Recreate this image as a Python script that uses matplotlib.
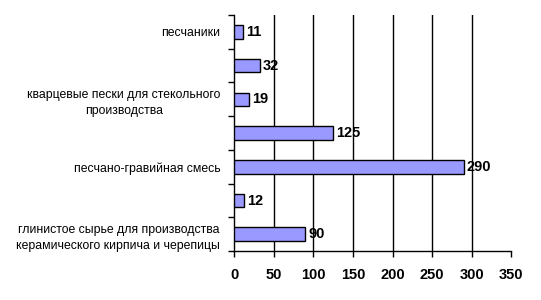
import matplotlib
matplotlib.use("Agg")
import matplotlib.pyplot as plt
import numpy as np

# Категории сверху вниз (скрытые подписи оставлены пустыми)
categories = [
    "песчаники",
    "",
    "кварцевые пески для стекольного\nпроизводства",
    "",
    "песчано-гравийная смесь",
    "",
    "глинистое сырье для производства\nкерамического кирпича и черепицы",
]
values = [11, 32, 19, 125, 290, 12, 90]
xticks = [0, 50, 100, 150, 200, 250, 300, 350]


def main():
    plt.rcParams['font.family'] = ['Liberation Sans', 'DejaVu Sans']

    fig = plt.figure(figsize=(5.41, 3.0), dpi=100)
    ax = fig.add_axes([0.433, 0.163, 0.512, 0.787])

    n = len(values)
    pos = np.arange(n)[::-1]
    ax.barh(pos, values, height=0.4, color='#9999FF', edgecolor='black',
            linewidth=1, zorder=3)

    for p, v in zip(pos, values):
        ax.text(v + 4, p, str(v), va='center', ha='left', fontsize=10.5,
                fontweight='bold', zorder=4)

    ax.set_xlim(0, 350)
    ax.set_ylim(-0.5, n - 0.5)
    ax.set_xticks(xticks)
    ax.set_xticklabels([str(t) for t in xticks], fontsize=10.5, fontweight='bold')
    for t in xticks[1:-1]:
        ax.axvline(t, color='black', linewidth=1, zorder=1)

    # подписи категорий по центрам, деления на границах
    ax.set_yticks(pos)
    ax.set_yticklabels(categories, fontsize=8.8, multialignment='center',
                       linespacing=1.45)
    ax.tick_params(axis='y', length=0, pad=10)
    ax.set_yticks(np.arange(n + 1) - 0.5, minor=True)
    ax.tick_params(axis='y', which='minor', length=4, width=1, direction='out')
    ax.tick_params(axis='x', length=4, width=1, direction='out', pad=8)

    for s in ['top', 'right']:
        ax.spines[s].set_visible(False)
    ax.spines['left'].set_linewidth(1)
    ax.spines['bottom'].set_linewidth(1)

    fig.savefig('out.png', dpi=100)


if __name__ == "__main__":
    main()
